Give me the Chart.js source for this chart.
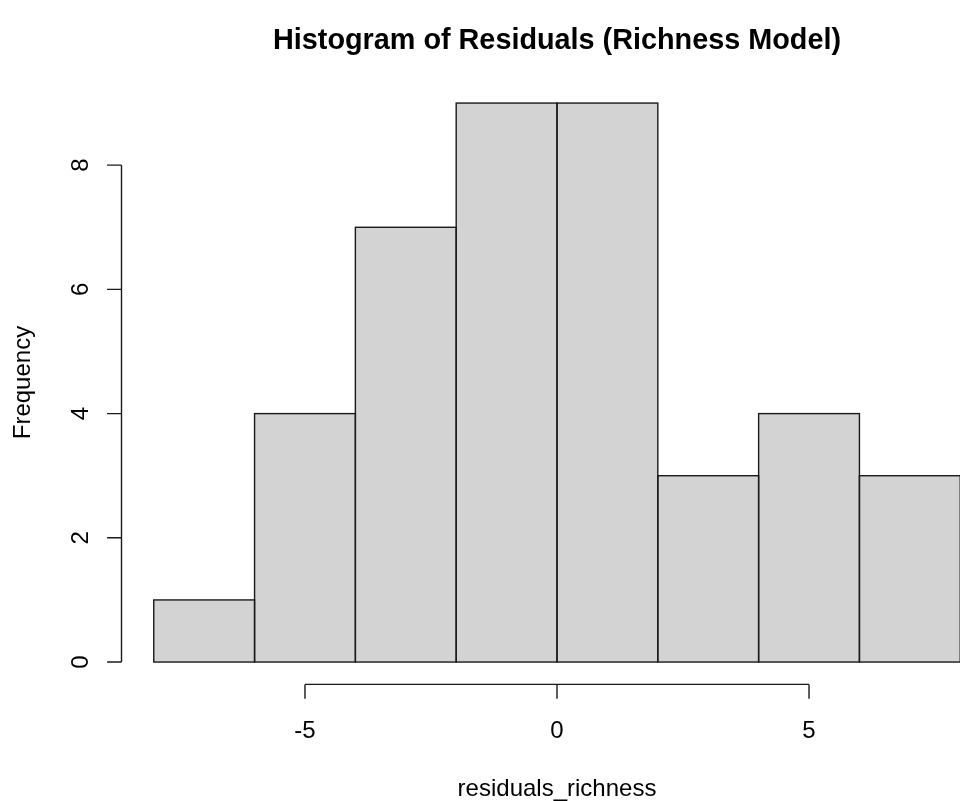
<!DOCTYPE html>
<html>
<head>
<meta charset="utf-8">
<script src="https://cdn.jsdelivr.net/npm/chart.js@4"></script>
<style>
  html, body { margin: 0; padding: 0; background: #ffffff; overflow: hidden; }
  #wrap { width: 1000px; height: 801px; }
</style>
</head>
<body>
<div id="wrap"><canvas id="c" width="1000" height="801"></canvas></div>
<script>
// ---- data ----
const binEdges = [-8, -6, -4, -2, 0, 2, 4, 6, 8];
const counts = [1, 4, 7, 9, 9, 3, 4, 3];
const xTicks = [-5, 0, 5];
const yTicks = [0, 2, 4, 6, 8];
const titleText = 'Histogram of Residuals (Richness Model)';
const xTitle = 'residuals_richness';
const yTitle = 'Frequency';

const barPoints = counts.map((c, i) => ({ x: (binEdges[i] + binEdges[i + 1]) / 2, y: c }));

const FONT = '"Liberation Sans", Arial, Helvetica, sans-serif';
const INK = '#1a1a1a';

// outline every bar as one rectangle, so shared edges stay a single line
const barOutlines = {
  id: 'barOutlines',
  afterDatasetsDraw(chart) {
    const ctx = chart.ctx;
    ctx.save();
    ctx.strokeStyle = INK;
    ctx.lineWidth = 1.4;
    chart.getDatasetMeta(0).data.forEach(el => {
      const p = el.getProps(['x', 'y', 'base', 'width'], true);
      ctx.strokeRect(p.x - p.width / 2, p.y, p.width, p.base - p.y);
    });
    ctx.restore();
  }
};

const rAxes = {
  id: 'rAxes',
  afterDraw(chart) {
    const ctx = chart.ctx;
    const xs = chart.scales.x, ys = chart.scales.y, ca = chart.chartArea;
    ctx.save();
    ctx.strokeStyle = INK;
    ctx.fillStyle = '#000';
    ctx.lineWidth = 1.4;
    const tick = 14.4;

    // x axis
    const axY = ys.getPixelForValue(ys.min);
    ctx.beginPath();
    ctx.moveTo(xs.getPixelForValue(xTicks[0]), axY);
    ctx.lineTo(xs.getPixelForValue(xTicks[xTicks.length - 1]), axY);
    xTicks.forEach(v => {
      const px = xs.getPixelForValue(v);
      ctx.moveTo(px, axY);
      ctx.lineTo(px, axY + tick);
    });
    ctx.stroke();
    ctx.font = '24px ' + FONT;
    ctx.textAlign = 'center';
    ctx.textBaseline = 'alphabetic';
    xTicks.forEach(v => {
      ctx.fillText(String(v), xs.getPixelForValue(v), 738);
    });
    ctx.fillText(xTitle, (ca.left + ca.right) / 2, 796);

    // y axis
    const axX = xs.getPixelForValue(xs.min);
    ctx.beginPath();
    ctx.moveTo(axX, ys.getPixelForValue(yTicks[0]));
    ctx.lineTo(axX, ys.getPixelForValue(yTicks[yTicks.length - 1]));
    yTicks.forEach(v => {
      const py = ys.getPixelForValue(v);
      ctx.moveTo(axX, py);
      ctx.lineTo(axX - tick, py);
    });
    ctx.stroke();
    yTicks.forEach(v => {
      ctx.save();
      ctx.translate(88, ys.getPixelForValue(v));
      ctx.rotate(-Math.PI / 2);
      ctx.fillText(String(v), 0, 0);
      ctx.restore();
    });
    ctx.save();
    ctx.translate(30, (ca.top + ca.bottom) / 2);
    ctx.rotate(-Math.PI / 2);
    ctx.fillText(yTitle, 0, 0);
    ctx.restore();

    // main title
    ctx.font = 'bold 28.8px ' + FONT;
    ctx.fillText(titleText, (ca.left + ca.right) / 2, 49);
    ctx.restore();
  }
};

new Chart(document.getElementById('c'), {
  type: 'bar',
  data: {
    datasets: [{
      label: 'Frequency',
      data: barPoints,
      backgroundColor: '#d3d3d3',
      borderWidth: 0,
      borderSkipped: false,
      barPercentage: 1,
      categoryPercentage: 1,
      inflateAmount: 0
    }]
  },
  options: {
    responsive: false,
    animation: false,
    events: [],
    layout: { padding: { left: 121.5, right: 7.5, top: 80.7, bottom: 116.6 } },
    plugins: { legend: { display: false }, tooltip: { enabled: false }, title: { display: false } },
    scales: {
      x: { type: 'linear', min: -8.64, max: 8.64, offset: false, display: false },
      y: { type: 'linear', min: -0.36, max: 9.36, display: false }
    }
  },
  plugins: [barOutlines, rAxes]
});
</script>
</body>
</html>
